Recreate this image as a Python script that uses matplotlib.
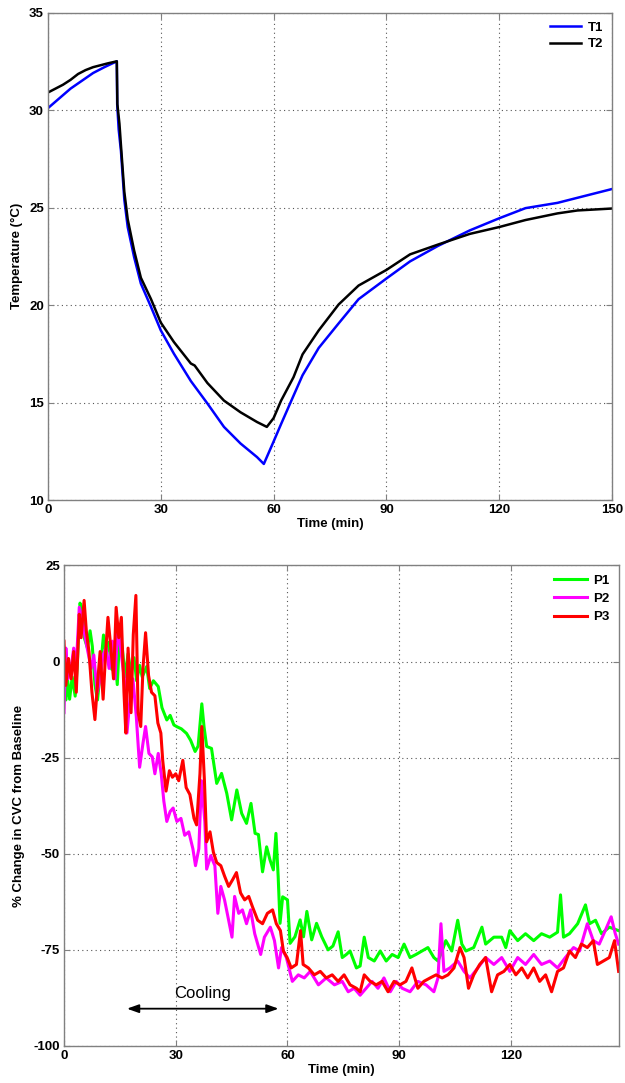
import matplotlib
matplotlib.use("Agg")
import matplotlib.pyplot as plt

plt.rcParams['font.family'] = ['Liberation Sans', 'DejaVu Sans']
plt.rcParams['font.weight'] = 'bold'
plt.rcParams['axes.unicode_minus'] = False

# ---------------- Top panel data: temperatures ----------------
T1_t = [0, 3, 6, 9, 12, 15, 18.3, 18.4, 18.8, 19.4, 20.3, 21.2, 22.9, 24.7, 27.4, 30, 33.5, 38,
        42.4, 46.8, 51.2, 55.6, 57.4, 60, 62, 64.5, 67.7, 72, 77.3, 82.6, 90, 96.3, 103.7,
        112.2, 120, 127, 135.5, 140.8, 150]
T1_v = [30.1, 30.6, 31.1, 31.5, 31.9, 32.2, 32.5, 30.3, 29.0, 27.9, 25.4, 24.0, 22.46, 21.1,
        19.9, 18.7, 17.5, 16.1, 14.95, 13.75, 12.9, 12.2, 11.85, 13.0, 13.9, 15.0, 16.4, 17.8,
        19.06, 20.3, 21.36, 22.24, 23.03, 23.83, 24.45, 24.97, 25.24, 25.5, 25.95]

T2_t = [0, 2, 4, 6, 8, 10, 12, 14, 16, 18.3, 18.45, 19, 19.4, 20.3, 21.2, 22.9, 24.7, 27.4, 30,
        33.5, 38, 39, 42.4, 46.8, 51.2, 55.6, 58.2, 60, 62, 65.3, 67.7, 72, 77.3, 82.6, 90,
        96.3, 103.7, 112.2, 120, 127, 135.5, 140.8, 150]
T2_v = [30.9, 31.1, 31.3, 31.55, 31.85, 32.05, 32.2, 32.3, 32.4, 32.5, 30.3, 29.3, 28.2, 25.8,
        24.4, 22.8, 21.4, 20.3, 19.1, 18.1, 17.0, 16.9, 16.0, 15.1, 14.5, 14.0, 13.75, 14.2,
        15.1, 16.3, 17.47, 18.7, 20.03, 21.0, 21.8, 22.6, 23.1, 23.65, 24.0, 24.36, 24.7,
        24.85, 24.95]

top_xticks = [0, 30, 60, 90, 120, 150]
top_yticks = [10, 15, 20, 25, 30, 35]

# ---------------- Bottom panel data: % change in CVC ----------------
P1_t = [0, 0.5, 1.0, 1.5, 2.2, 3.0, 3.5, 4.3, 5.0, 5.5,
        6.3, 7.0, 7.6, 8.3, 9.0, 9.6, 10.6, 11.3, 12.0, 12.8,
        13.5, 14.3, 15.0, 15.7, 16.4, 17.2, 18.0, 18.8, 19.5, 20.3,
        21.0, 22.2, 23.0, 24.0, 25.3, 26.3, 27.6, 28.5, 29.5, 30.4,
        31.5, 32.9, 34.0, 35.2, 36.0, 37.0, 37.6, 38.3, 39.6, 41.0,
        42.3, 43.7, 45.0, 46.4, 47.7, 49.0, 50.2, 51.3, 52.2, 53.3,
        54.4, 55.3, 56.2, 56.9, 57.5, 58.0, 58.7, 60.0, 60.7, 62.0,
        63.4, 64.3, 65.2, 66.5, 67.8, 69.2, 70.9, 72.2, 73.6, 74.7,
        75.8, 76.8, 78.5, 79.5, 80.6, 81.7, 83.3, 84.9, 86.5, 88.1,
        89.7, 91.3, 92.9, 94.5, 96.1, 97.7, 99.3, 100.4, 101.5, 102.5,
        104.1, 105.7, 106.8, 107.9, 110.0, 112.2, 113.2, 115.4, 117.5, 118.6,
        119.7, 121.8, 123.9, 126.1, 128.2, 130.4, 132.5, 133.3, 134.1, 135.7,
        137.9, 140.0, 141.1, 142.7, 144.3, 146.4, 148.9]
P1_v = [-8, -10, -5, -9.8, -4, -9, -2, 15.2, 13, 6,
        3.5, 8, 4, -6, -10, -4, 6.9, 2, 5, -2,
        4, -6, 8, 3, -4, 2, -3, 1, -5, -1,
        -4, -1.3, -7, -5, -6.5, -12, -15.2, -14, -16.5, -17,
        -17.5, -18.7, -20.5, -23.4, -22, -11, -17, -22.1, -22.6, -31.7,
        -29.1, -34.3, -41.2, -33.4, -39.5, -42.1, -36.9, -44.7, -45, -54.7,
        -48.2, -51.6, -54.2, -44.7, -56, -68.1, -61.2, -62, -73.3, -71.6,
        -67.2, -71.6, -65, -72.4, -68.1, -71.6, -75, -74, -70.3, -77,
        -76.2, -75.3, -79.7, -79.2, -71.7, -77, -77.9, -75.3, -77.9, -76.2,
        -77, -73.5, -77, -76.2, -75.3, -74.4, -77, -77.9, -75.3, -72.6,
        -75.3, -67.3, -73.5, -75.3, -74.4, -69.1, -73.5, -71.7, -71.7, -74.4,
        -70, -72.6, -70.8, -72.6, -70.8, -71.7, -70.4, -60.7, -71.7, -70.8,
        -68.2, -63.3, -68.2, -67.3, -70.8, -69.1, -70]

P2_t = [0, 0.5, 1.0, 1.9, 2.6, 3.2, 4.1, 4.8, 5.7, 6.4,
        7.3, 8.0, 8.9, 9.7, 10.5, 11.3, 12.1, 13.0, 13.7, 14.4,
        15.3, 16.2, 16.9, 17.8, 18.5, 19.4, 20.3, 21.2, 21.9, 22.8,
        23.7, 24.4, 25.3, 26.1, 26.8, 27.6, 28.5, 29.3, 30.3, 31.4,
        32.4, 33.5, 34.6, 35.3, 36.2, 36.9, 37.8, 38.3, 39.4, 40.5,
        41.3, 42.1, 43.1, 44.2, 45.1, 45.8, 46.9, 47.9, 49.0, 50.1,
        51.2, 52.8, 53.8, 55.4, 56.5, 57.6, 58.4, 59.7, 61.3, 62.9,
        64.5, 66.1, 68.3, 70.4, 72.6, 74.7, 76.3, 77.9, 79.5, 81.1,
        82.7, 84.3, 85.9, 87.6, 89.2, 90.8, 92.9, 95.0, 97.2, 99.3,
        100.4, 101.2, 102.0, 103.6, 105.7, 107.4, 109.0, 111.1, 113.2, 115.4,
        117.5, 119.7, 121.8, 123.9, 126.1, 128.2, 130.4, 132.5, 134.6, 136.8,
        138.4, 140.5, 142.1, 143.7, 145.3, 146.9, 148.0, 148.9]
P2_v = [-13.3, 3.5, -4.5, -1.8, 3.5, -2.7, 14.1, 11.5, 6.2, 2.6,
        -1.8, 1.7, -8, -4.5, 1.7, 3.5, -1.8, 5.3, -4.5, 8.8,
        2.6, -4.5, -18.6, -8.9, -4.5, -14.2, -27.5, -21.3, -16.9, -23.9,
        -24.8, -29.2, -23.9, -29.2, -36.3, -41.6, -39, -38.1, -41.6, -40.8,
        -45.2, -44.3, -48.7, -53.1, -48.7, -31, -41.6, -54, -50.5, -53.1,
        -65.5, -58.5, -62, -67.3, -71.7, -61.1, -65.5, -64.6, -68.2, -64.6,
        -70.8, -76.2, -71.7, -69.1, -72.6, -79.7, -74.4, -77, -83.2, -81.5,
        -82.3, -80.6, -84.1, -82.3, -84.1, -83.2, -85.9, -85, -86.8, -85,
        -83.2, -85, -82.3, -85.9, -83.2, -85, -85.9, -83.2, -84.1, -85.9,
        -82.3, -68.2, -80.6, -79.7, -77.9, -80.6, -82.3, -79.7, -77, -78.8,
        -77, -80.6, -77, -78.8, -76.2, -78.8, -77.9, -79.7, -77, -74.4,
        -75.3, -68.2, -72.6, -73.5, -70, -66.4, -70.8, -73.5]

P3_t = [0, 0.5, 1.2, 1.9, 2.6, 3.3, 4.1, 4.6, 5.4, 6.0,
        6.7, 7.5, 8.3, 9.1, 9.7, 10.5, 11.2, 11.8, 12.5, 13.3,
        14.0, 14.7, 15.4, 16.1, 16.6, 17.2, 18.0, 18.6, 19.3, 19.9,
        20.6, 21.2, 21.9, 22.7, 23.5, 24.4, 25.2, 26.0, 26.5, 27.4,
        28.3, 29.1, 30.0, 30.8, 31.9, 32.8, 33.8, 34.9, 35.6, 36.5,
        37.0, 37.7, 38.3, 39.2, 40.1, 41.0, 42.1, 43.1, 44.2, 45.3,
        46.3, 47.4, 48.5, 49.6, 50.6, 52.0, 53.3, 54.6, 56.0, 57.0,
        58.1, 58.9, 59.9, 61.0, 62.4, 63.5, 64.2, 65.6, 67.2, 68.8,
        70.4, 72.0, 73.6, 75.2, 76.8, 78.5, 79.5, 80.6, 82.2, 83.8,
        85.4, 87.0, 88.6, 90.2, 91.8, 93.4, 95.0, 96.6, 98.3, 99.9,
        101.5, 103.1, 104.7, 106.3, 107.4, 108.6, 110.0, 111.6, 113.2, 114.8,
        116.4, 118.1, 119.7, 121.3, 122.9, 124.5, 126.1, 127.7, 129.3, 130.9,
        132.5, 134.1, 135.7, 137.3, 138.9, 140.5, 142.1, 143.2, 144.8, 146.4,
        147.8, 148.9]
P3_v = [5.3, -6.2, 0.8, -4.5, 2.6, -8, 12.3, 6.2, 15.9, 7.9,
        2.6, -8, -15.1, -4.5, 2.6, -9.8, 2.6, 11.5, 4.4, -4.5,
        14.1, 6.2, 11.5, -8, -18.6, 3.5, -13.3, 7, 17.2, -13.3,
        -16.9, -1.8, 7.5, -3.6, -8, -8.9, -16, -18.6, -25.7, -33.7,
        -28.4, -30.1, -29.2, -31, -25.7, -32.8, -34.6, -40.8, -42.5, -29.2,
        -16.9, -31, -46.9, -44.3, -49.6, -52.3, -53.1, -55.8, -58.5, -56.7,
        -54.9, -60.2, -62, -61.1, -63.8, -67.3, -68.2, -65.5, -64.6, -68.2,
        -70, -75.3, -77, -79.7, -78.8, -70, -78.8, -79.7, -81.5, -80.6,
        -82.3, -81.5, -83.2, -81.5, -84.1, -85, -85.9, -81.5, -83.2, -84.1,
        -83.2, -85.9, -83.2, -84.1, -83.2, -79.7, -85, -83.2, -82.3, -81.5,
        -82.3, -81.5, -79.7, -74.4, -77, -85, -81.5, -78.8, -77, -85.9,
        -81.5, -80.6, -78.8, -81.5, -79.7, -82.3, -79.7, -83.2, -81.5, -85.9,
        -80.6, -79.7, -75.3, -77, -73.5, -74.4, -72.6, -78.8, -77.9, -77,
        -72.6, -80.6]

bot_xticks = [0, 30, 60, 90, 120]
bot_yticks = [-100, -75, -50, -25, 0, 25]

cooling_start, cooling_end, cooling_level = 16.9, 57.6, -90.3

# ---------------- Figure ----------------
fig = plt.figure(figsize=(6.25, 10.83), dpi=100)
ax1 = fig.add_axes([0.0768, 0.5383, 0.9024, 0.4501])
ax2 = fig.add_axes([0.1024, 0.0342, 0.888, 0.4437])

FS = 9.5
spine_col = '#808080'


def style(ax):
    for s in ax.spines.values():
        s.set_color(spine_col)
        s.set_linewidth(1.0)
    ax.tick_params(direction='in', length=4, color=spine_col, labelsize=FS,
                   top=True, right=True, pad=3)
    for lab in ax.get_xticklabels() + ax.get_yticklabels():
        lab.set_fontweight('bold')
    ax.grid(True, color='#555555', linestyle=(0, (1, 3)), linewidth=0.8)
    ax.set_axisbelow(True)


ax1.plot(T1_t, T1_v, color='#0000ff', lw=1.8, label='T1')
ax1.plot(T2_t, T2_v, color='black', lw=1.8, label='T2')
ax1.set_xlim(0, 150)
ax1.set_ylim(10, 35)
ax1.set_xticks(top_xticks)
ax1.set_yticks(top_yticks)
style(ax1)
ax1.set_xlabel('Time (min)', fontsize=FS, fontweight='bold', labelpad=1)
ax1.set_ylabel('Temperature (°C)', fontsize=FS, fontweight='bold', labelpad=4)
leg1 = ax1.legend(loc='upper right', frameon=False, fontsize=FS, handlelength=2.3,
                  handletextpad=0.5, labelspacing=0.3, borderaxespad=0.3)

ax2.plot(P1_t, P1_v, color='#00ff00', lw=2.2, label='P1')
ax2.plot(P2_t, P2_v, color='#ff00ff', lw=2.2, label='P2')
ax2.plot(P3_t, P3_v, color='#ff0000', lw=2.2, label='P3')
ax2.set_xlim(0, 149)
ax2.set_ylim(-100, 25)
ax2.set_xticks(bot_xticks)
ax2.set_yticks(bot_yticks)
style(ax2)
ax2.set_xlabel('Time (min)', fontsize=FS, fontweight='bold', labelpad=1)
ax2.set_ylabel('% Change in CVC from Baseline', fontsize=FS, fontweight='bold', labelpad=6)
leg2 = ax2.legend(loc='upper right', frameon=False, fontsize=FS, handlelength=2.5,
                  handletextpad=0.5, labelspacing=0.45, borderaxespad=0.3)

ax2.annotate('', xy=(cooling_end, cooling_level), xytext=(cooling_start, cooling_level),
             arrowprops=dict(arrowstyle='<|-|>,head_length=0.7,head_width=0.25',
                             color='black', lw=1.3, shrinkA=0, shrinkB=0))
ax2.text((cooling_start + cooling_end) / 2, cooling_level + 2.0, 'Cooling',
         ha='center', va='bottom', fontsize=12, fontweight='normal')

fig.savefig('out.png', dpi=100)
